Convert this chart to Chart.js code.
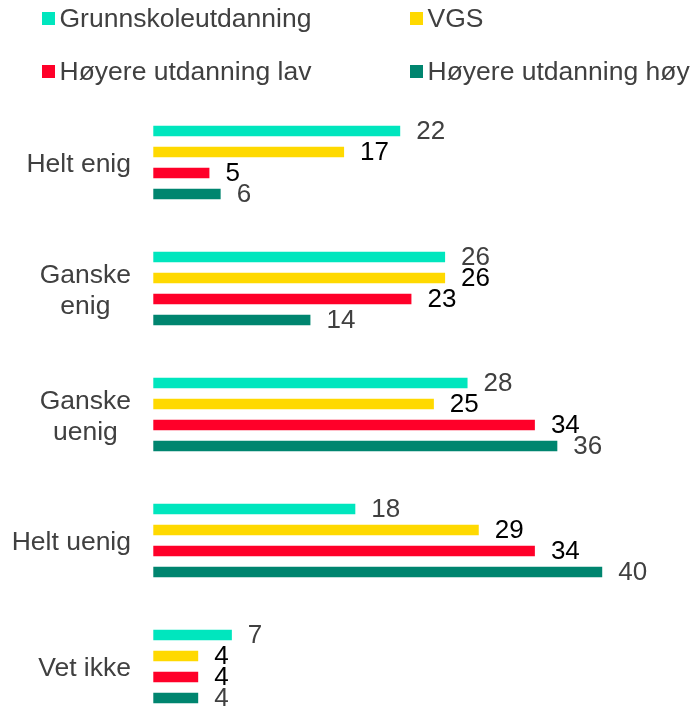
<!DOCTYPE html>
<html>
<head>
<meta charset="utf-8">
<script src="https://cdn.jsdelivr.net/npm/chart.js@4.4.1/dist/chart.umd.min.js"></script>
<style>
  html, body { margin: 0; padding: 0; background: #fff; }
  #wrap { width: 695px; height: 708px; position: relative; }
</style>
</head>
<body>
<div id="wrap"><canvas id="educationChart"></canvas></div>
<script>
const CATEGORIES = [['Helt enig'], ['Ganske', 'enig'], ['Ganske', 'uenig'], ['Helt uenig'], ['Vet ikke']];

const SERIES_NAMES = ['Grunnskoleutdanning', 'VGS', 'Høyere utdanning lav', 'Høyere utdanning høy'];

const GRUNNSKOLE = [22, 26, 28, 18, 7];
const VGS = [17, 26, 25, 29, 4];
const HOYERE_LAV = [5, 23, 34, 34, 4];
const HOYERE_HOY = [6, 14, 36, 40, 4];

const BAR_COLORS = ['#00E6BE', '#FFD900', '#FF0029', '#00856F'];
const LABEL_COLORS = ['#404040', '#000000', '#000000', '#404040'];

const FONT = 'Arial, "Liberation Sans", sans-serif';
const TEXT_GRAY = '#404040';

const seriesValues = [GRUNNSKOLE, VGS, HOYERE_LAV, HOYERE_HOY];

// labels, category names and legend, drawn straight onto the canvas
const annotate = {
    id: 'annotate',
    afterDatasetsDraw(chart) {
        const ctx = chart.ctx;
        ctx.save();
        ctx.font = '26px ' + FONT;
        ctx.textAlign = 'left';
        ctx.textBaseline = 'middle';
        chart.data.datasets.forEach((ds, i) => {
            const meta = chart.getDatasetMeta(i);
            ctx.fillStyle = LABEL_COLORS[i];
            meta.data.forEach((bar, j) => {
                ctx.fillText(String(ds.data[j]), bar.x + 16, bar.y + 1);
            });
        });
        ctx.restore();
    },
    afterDraw(chart) {
        const ctx = chart.ctx;
        const yScale = chart.scales.y;
        ctx.save();

        // category names: block right-aligned, lines centred within the block
        ctx.font = '26.5px ' + FONT;
        ctx.fillStyle = TEXT_GRAY;
        ctx.textAlign = 'center';
        ctx.textBaseline = 'alphabetic';
        const capH = 19, lineH = 31, rightEdge = 131;
        chart.data.labels.forEach((lines, i) => {
            const cy = yScale.getPixelForValue(i);
            const blockW = Math.max(...lines.map(l => ctx.measureText(l).width));
            const cx = rightEdge - blockW / 2;
            const top = cy - (capH + (lines.length - 1) * lineH) / 2;
            lines.forEach((l, k) => ctx.fillText(l, cx, top + capH + k * lineH));
        });

        // legend, two columns by two rows
        const cols = [42, 410];
        const rows = [12, 65];
        ctx.textAlign = 'left';
        chart.data.datasets.forEach((ds, i) => {
            const x = cols[i % 2];
            const y = rows[Math.floor(i / 2)];
            ctx.fillStyle = ds.backgroundColor;
            ctx.fillRect(x, y, 13, 13);
            ctx.fillStyle = TEXT_GRAY;
            ctx.fillText(ds.label, x + 17.5, y + 15);
        });
        ctx.restore();
    }
};

const dataEducation = {
    labels: CATEGORIES,
    datasets: SERIES_NAMES.map((name, i) => ({
        label: name,
        data: seriesValues[i],
        backgroundColor: BAR_COLORS[i],
        borderWidth: 0,
        categoryPercentage: 0.667,
        barPercentage: 0.49,
        clip: false
    }))
};

const configEducation = {
    type: 'bar',
    data: dataEducation,
    options: {
        indexAxis: 'y',
        responsive: true,
        maintainAspectRatio: false,
        animation: false,
        layout: {
            padding: { top: 162.5, bottom: 41.5, left: 0, right: 3 }
        },
        scales: {
            x: {
                display: false,
                min: 0,
                max: 48
            },
            y: {
                offset: false,
                grid: { display: false },
                border: { display: false },
                ticks: { display: false },
                afterFit(scale) {
                    scale.width = 153.3;
                }
            }
        },
        plugins: {
            legend: { display: false },
            tooltip: { enabled: false }
        }
    },
    plugins: [annotate]
};

var educationChart = new Chart(
    document.getElementById('educationChart'),
    configEducation
);
</script>
</body>
</html>
